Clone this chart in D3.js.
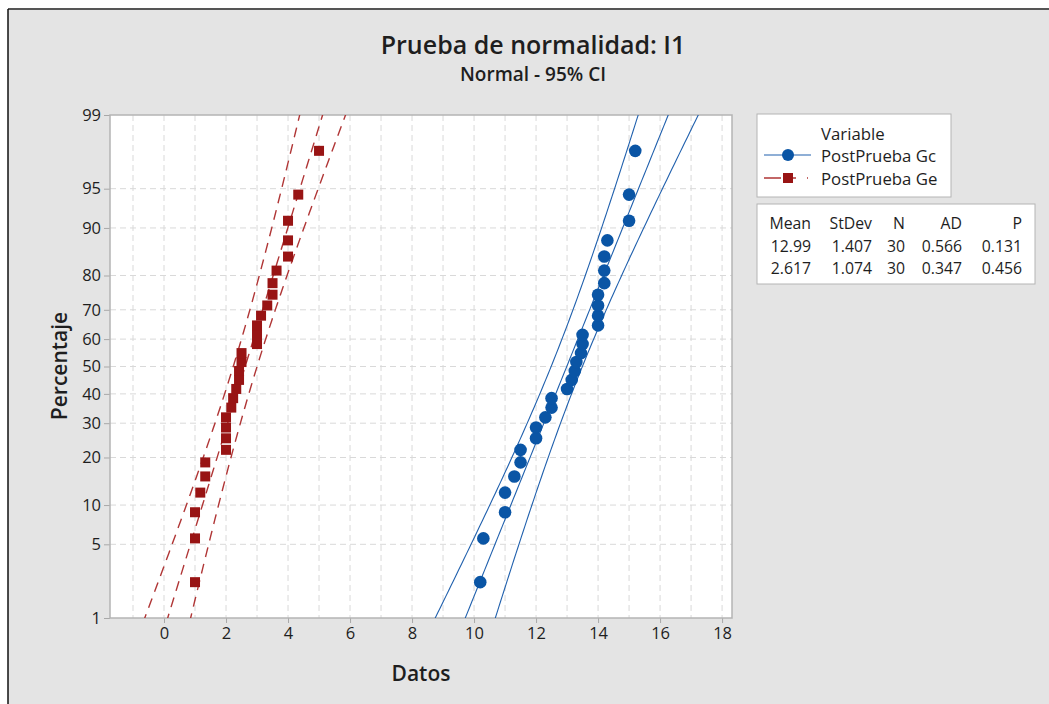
<!DOCTYPE html>
<html>
<head>
<meta charset="utf-8">
<script src="https://cdn.jsdelivr.net/npm/d3@7"></script>
<style>
  body { margin: 0; background: #ffffff; }
  svg text { font-family: "Open Sans", "Noto Sans", sans-serif; }
</style>
</head>
<body>
<div id="canvas"></div>
<script>
// values (sorted)
var gc_values = [10.2, 10.3, 11.0, 11.0, 11.3, 11.5, 11.5, 12.0, 12.0, 12.3,
                 12.5, 12.5, 13.0, 13.15, 13.25, 13.3, 13.45, 13.5, 13.5, 14.0,
                 14.0, 14.0, 14.0, 14.2, 14.2, 14.2, 14.3, 15.0, 15.0, 15.2]
var ge_values = [1.0, 1.0, 1.0, 1.17, 1.33, 1.33, 2.0, 2.0, 2.0, 2.0,
                 2.17, 2.23, 2.33, 2.42, 2.42, 2.5, 2.5, 3.0, 3.0, 3.0,
                 3.13, 3.33, 3.5, 3.5, 3.63, 4.0, 4.0, 4.0, 4.33, 5.0]
var series_names = ['PostPrueba Gc', 'PostPrueba Ge']
var stat_cols = ['Mean', 'StDev', 'N', 'AD', 'P']
var stat_rows = [['12.99', '1.407', '30', '0.566', '0.131'],
                 ['2.617', '1.074', '30', '0.347', '0.456']]
var means = [12.99, 2.617]
var sds = [1.407, 1.074]
var pct_ticks = [1, 5, 10, 20, 30, 40, 50, 60, 70, 80, 90, 95, 99]
var x_ticks = [0, 2, 4, 6, 8, 10, 12, 14, 16, 18]

// inverse normal cdf (Acklam)
function probit(p) {
    var a = [-39.69683028665376, 220.9460984245205, -275.9285104469687, 138.3577518672690, -30.66479806614716, 2.506628277459239]
    var b = [-54.47609879822406, 161.5858368580409, -155.6989798598866, 66.80131188771972, -13.28068155288572]
    var c = [-0.007784894002430293, -0.3223964580411365, -2.400758277161838, -2.549732539343734, 4.374664141464968, 2.938163982698783]
    var d = [0.007784695709041462, 0.3224671290700398, 2.445134137142996, 3.754408661907416]
    var q, r
    if (p < 0.02425) {
        q = Math.sqrt(-2 * Math.log(p))
        return (((((c[0]*q+c[1])*q+c[2])*q+c[3])*q+c[4])*q+c[5]) / ((((d[0]*q+d[1])*q+d[2])*q+d[3])*q+1)
    } else if (p > 1 - 0.02425) {
        q = Math.sqrt(-2 * Math.log(1 - p))
        return -(((((c[0]*q+c[1])*q+c[2])*q+c[3])*q+c[4])*q+c[5]) / ((((d[0]*q+d[1])*q+d[2])*q+d[3])*q+1)
    }
    q = p - 0.5
    r = q * q
    return (((((a[0]*r+a[1])*r+a[2])*r+a[3])*r+a[4])*r+a[5])*q / (((((b[0]*r+b[1])*r+b[2])*r+b[3])*r+b[4])*r+1)
}

var W = 1049, H = 704
var pL = 110, pR = 732, pT = 115, pB = 618
var blue = '#0a55a5', red = '#981414'
var txt = '#1e1e1e'

var svg = d3.select('#canvas').append('svg')
    .attr('width', W).attr('height', H)

// background + frame lines
svg.append('rect').attr('x', 8).attr('y', 9).attr('width', W - 8).attr('height', H - 9).attr('fill', '#e4e4e4')
svg.append('line').attr('x1', 8).attr('x2', W).attr('y1', 9).attr('y2', 9).attr('stroke', '#555').attr('stroke-width', 2)
svg.append('line').attr('x1', 8).attr('x2', 8).attr('y1', 9).attr('y2', H).attr('stroke', '#111').attr('stroke-width', 1.5)

var x = d3.scaleLinear().domain([-1.742, 18.32]).range([pL, pR])
var zmax = probit(0.99)
var y = d3.scaleLinear().domain([-zmax, zmax]).range([pB, pT])

svg.append('rect').attr('x', pL).attr('y', pT).attr('width', pR - pL).attr('height', pB - pT)
    .attr('fill', '#fff')

svg.append('clipPath').attr('id', 'clip').append('rect')
    .attr('x', pL).attr('y', pT).attr('width', pR - pL).attr('height', pB - pT)

// grid
var grid = svg.append('g')
grid.selectAll('line.v').data(d3.range(-1, 19)).enter().append('line')
    .attr('x1', d => x(d)).attr('x2', d => x(d)).attr('y1', pT).attr('y2', pB)
    .attr('stroke', '#d9d9d9').attr('stroke-dasharray', '6 4')
grid.selectAll('line.h').data(pct_ticks.slice(1, -1)).enter().append('line')
    .attr('x1', pL).attr('x2', pR).attr('y1', d => y(probit(d / 100))).attr('y2', d => y(probit(d / 100)))
    .attr('stroke', '#d9d9d9').attr('stroke-dasharray', '6 4')

// axes
var xAxis = svg.append('g').attr('transform', 'translate(0,' + pB + ')')
    .call(d3.axisBottom(x).tickValues(x_ticks).tickSize(5).tickPadding(4).tickFormat(d3.format('d')))
var yAxis = svg.append('g').attr('transform', 'translate(' + pL + ',0)')
    .call(d3.axisLeft(y).tickValues(pct_ticks.map(p => probit(p / 100))).tickSize(6).tickPadding(3)
        .tickFormat((d, i) => pct_ticks[i]))
;[xAxis, yAxis].forEach(function(a) {
    a.select('.domain').remove()
    a.selectAll('line').attr('stroke', '#a8a8a8')
    a.selectAll('text').attr('font-size', 16.5).attr('fill', txt)
})

svg.append('rect').attr('x', pL).attr('y', pT).attr('width', pR - pL).attr('height', pB - pT)
    .attr('fill', 'none').attr('stroke', '#b4b4b4').attr('stroke-width', 1.5)

// fit lines and 95% CI bands
var zs = d3.range(-zmax - 0.2, zmax + 0.21, 0.05)
var plot = svg.append('g').attr('clip-path', 'url(#clip)')
function band(m, s, k) {
    var n = 30
    return zs.map(function(z) {
        var half = 1.96 * s / Math.sqrt(n) * Math.sqrt(1 + z * z / 2)
        return [x(m + s * z + k * half), y(z)]
    })
}
var line = d3.line()
;[0, 1].forEach(function(i) {
    [-1, 0, 1].forEach(function(k) {
        plot.append('path').attr('d', line(band(means[i], sds[i], k)))
            .attr('fill', 'none')
            .attr('stroke', i == 0 ? '#2060ad' : '#b03636')
            .attr('stroke-width', i == 0 ? 1.1 : 1.4)
            .attr('stroke-dasharray', i == 0 ? null : '10 7')
    })
})

// points (median ranks)
function pts(vals) {
    var n = vals.length
    return vals.map((v, j) => ({ v: v, z: probit((j + 1 - 0.3) / (n + 0.4)) }))
}
plot.selectAll('circle.gc').data(pts(gc_values)).enter().append('circle')
    .attr('cx', d => x(d.v)).attr('cy', d => y(d.z)).attr('r', 6.3).attr('fill', blue)
plot.selectAll('rect.ge').data(pts(ge_values)).enter().append('rect')
    .attr('x', d => x(d.v) - 5).attr('y', d => y(d.z) - 5).attr('width', 10).attr('height', 10).attr('fill', red)

// titles
svg.append('text').attr('x', 533).attr('y', 54).attr('text-anchor', 'middle')
    .attr('font-size', 25).attr('font-weight', 600).attr('fill', txt).text('Prueba de normalidad: I1')
svg.append('text').attr('x', 533).attr('y', 81).attr('text-anchor', 'middle')
    .attr('font-size', 19).attr('font-weight', 600).attr('fill', txt).text('Normal - 95% CI')
svg.append('text').attr('x', 421).attr('y', 681).attr('text-anchor', 'middle')
    .attr('font-size', 21).attr('font-weight', 600).attr('fill', txt).text('Datos')
svg.append('text').attr('transform', 'translate(67,366) rotate(-90)').attr('text-anchor', 'middle')
    .attr('font-size', 21).attr('font-weight', 600).attr('fill', txt).text('Percentaje')

// legend
var leg = svg.append('g')
leg.append('rect').attr('x', 757).attr('y', 114).attr('width', 194).attr('height', 83)
    .attr('fill', '#fff').attr('stroke', '#b4b4b4')
leg.append('text').attr('x', 821).attr('y', 140).attr('font-size', 16.8).attr('fill', txt).text('Variable')
leg.append('line').attr('x1', 764).attr('x2', 811).attr('y1', 155).attr('y2', 155).attr('stroke', '#2060ad').attr('stroke-width', 1.2)
leg.append('circle').attr('cx', 788).attr('cy', 155).attr('r', 6).attr('fill', blue)
leg.append('line').attr('x1', 764).attr('x2', 811).attr('y1', 178).attr('y2', 178).attr('stroke', '#b03636')
    .attr('stroke-width', 1.4).attr('stroke-dasharray', '17 11 4 11 1 20')
leg.append('rect').attr('x', 783).attr('y', 173).attr('width', 10).attr('height', 10).attr('fill', red)
series_names.forEach(function(s, i) {
    leg.append('text').attr('x', 821).attr('y', 162 + i * 23).attr('font-size', 16.8).attr('fill', txt).text(s)
})

// stats table
var tab = svg.append('g')
tab.append('rect').attr('x', 757).attr('y', 204).attr('width', 278).attr('height', 80)
    .attr('fill', '#fff').attr('stroke', '#b4b4b4')
var col_right = [811, 872, 905, 962, 1022]
stat_cols.forEach(function(c, j) {
    tab.append('text').attr('x', col_right[j]).attr('y', 229).attr('text-anchor', 'end')
        .attr('font-size', 15.8).attr('fill', txt).text(c)
})
stat_rows.forEach(function(r, i) {
    r.forEach(function(v, j) {
        tab.append('text').attr('x', col_right[j]).attr('y', 252 + i * 22).attr('text-anchor', 'end')
            .attr('font-size', 15.8).attr('fill', txt).text(v)
    })
})
</script>
</body>
</html>
